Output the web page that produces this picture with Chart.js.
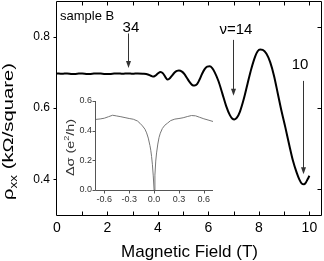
<!DOCTYPE html>
<html>
<head>
<meta charset="utf-8">
<script src="https://cdn.jsdelivr.net/npm/chart.js@4.4.0/dist/chart.umd.min.js"></script>
<style>
  html, body { margin: 0; padding: 0; background: #fff; }
  #wrap { position: relative; width: 324px; height: 261px; }
  canvas { position: absolute; left: 0; top: 0; }
</style>
</head>
<body>
<div id="wrap">
  <canvas id="main" width="324" height="261"></canvas>
  <canvas id="inset" width="324" height="261"></canvas>
</div>
<script>
// main trace: rho_xx vs B
const fieldT = [0, 0.2, 0.4, 0.6, 0.8, 1.0, 1.2, 1.4, 1.6, 1.8, 2.0, 2.2, 2.4, 2.6, 2.8, 3.0, 3.2, 3.4, 3.6,
  3.7, 3.8, 3.9, 4.0, 4.1, 4.2, 4.3, 4.37, 4.45, 4.55, 4.65, 4.75, 4.83, 4.95, 5.05, 5.15, 5.25, 5.35, 5.45,
  5.55, 5.65, 5.75, 5.85, 5.95, 6.05, 6.15, 6.25, 6.4, 6.55, 6.7, 6.85, 6.95, 7.03, 7.12, 7.25, 7.4, 7.55,
  7.7, 7.85, 7.95, 8.05, 8.15, 8.3, 8.45, 8.6, 8.75, 8.9, 9.05, 9.2, 9.35, 9.5, 9.6, 9.7, 9.78, 9.86, 9.93, 10.0];
const rhoXX = [0.697, 0.696, 0.697, 0.695, 0.696, 0.697, 0.695, 0.696, 0.697, 0.696, 0.695, 0.696, 0.697, 0.696, 0.697, 0.696, 0.697, 0.696, 0.694,
  0.691, 0.688, 0.691, 0.697, 0.701, 0.697, 0.686, 0.680, 0.682, 0.690, 0.699, 0.704, 0.705, 0.702, 0.695, 0.684, 0.673, 0.665, 0.663,
  0.667, 0.680, 0.696, 0.709, 0.716, 0.717, 0.712, 0.700, 0.675, 0.641, 0.606, 0.580, 0.570, 0.568, 0.572, 0.590, 0.625, 0.668,
  0.710, 0.744, 0.759, 0.764, 0.763, 0.752, 0.728, 0.690, 0.640, 0.590, 0.545, 0.497, 0.452, 0.418, 0.400, 0.388, 0.386, 0.391, 0.400, 0.410];

// inset: delta sigma vs B
const insetB = [-0.70, -0.65, -0.60, -0.55, -0.50, -0.45, -0.40, -0.35, -0.30, -0.25, -0.20, -0.17, -0.14, -0.11, -0.09, -0.07,
  -0.05, -0.04, -0.03, -0.02, -0.01, 0, 0.01, 0.02, 0.03, 0.045, 0.06, 0.075, 0.10, 0.13, 0.16, 0.20, 0.25, 0.30,
  0.35, 0.40, 0.45, 0.50, 0.55, 0.60, 0.65, 0.71];
const insetDSigma = [0.476, 0.479, 0.484, 0.494, 0.504, 0.499, 0.494, 0.488, 0.482, 0.477, 0.465, 0.450, 0.432, 0.410, 0.385, 0.350,
  0.300, 0.268, 0.225, 0.170, 0.095, 0.0, 0.100, 0.195, 0.250, 0.310, 0.355, 0.383, 0.415, 0.437, 0.450, 0.468, 0.478, 0.482,
  0.487, 0.495, 0.502, 0.500, 0.490, 0.480, 0.472, 0.462];

const xTickLabels = [0, 2, 4, 6, 8, 10];
const xTickMarks = [1, 2, 3, 4, 5, 6, 7, 8, 9, 10];
const yTickLabels = [0.4, 0.6, 0.8];
const rightTickMarks = [0.373, 0.6, 0.827];
const insetXTicks = [-0.6, -0.3, 0, 0.3, 0.6];
const insetYTicks = [0, 0.2, 0.4, 0.6];

// filling-factor arrows (data coords)
const arrows = [
  { label: '34', x: 2.83, from: 0.809, to: 0.712, lx: 2.93, ly: 0.824 },
  { label: 'ν=14', x: 6.99, from: 0.791, to: 0.634, lx: 7.09, ly: 0.818 },
  { label: '10', x: 9.73, from: 0.676, to: 0.414, lx: 9.63, ly: 0.720 }
];

const FONT = 'Arial, "Liberation Sans", Helvetica, sans-serif';
Chart.defaults.font.family = FONT;
Chart.defaults.color = '#000';

function setTicks(list) {
  return (s) => { s.ticks = list.map(v => ({ value: v })); };
}

function fitTo(prop, size) {
  return (s) => {
    s[prop] = size;
    s.paddingTop = 0; s.paddingBottom = 0; s.paddingLeft = 0; s.paddingRight = 0;
  };
}

function rotatedText(ctx, x, y, parts, length) {
  // parts: [text, size, shift]
  ctx.save();
  ctx.translate(x, y);
  ctx.rotate(-Math.PI / 2);
  let w = 0;
  parts.forEach(p => { ctx.font = p[1] + 'px ' + FONT; w += ctx.measureText(p[0]).width; });
  ctx.scale(length / w, 1);
  let cx = 0;
  ctx.textAlign = 'left';
  ctx.textBaseline = 'alphabetic';
  parts.forEach(p => {
    ctx.font = p[1] + 'px ' + FONT;
    ctx.fillText(p[0], cx, p[2]);
    cx += ctx.measureText(p[0]).width;
  });
  ctx.restore();
}

const mainDecor = {
  id: 'mainDecor',
  afterDraw(chart) {
    const { ctx, chartArea: a, scales: { x, y } } = chart;
    ctx.save();
    ctx.strokeStyle = '#000';
    ctx.lineWidth = 1;
    const L = a.left - 0.5, R = a.right - 0.5, T = a.top + 0.5, B = a.bottom + 0.5;
    ctx.beginPath();
    ctx.rect(L, T, R - L, B - T);
    xTickMarks.forEach(v => {
      const px = Math.round(x.getPixelForValue(v)) + 0.5;
      ctx.moveTo(px, B); ctx.lineTo(px, B - 4);
      ctx.moveTo(px, T); ctx.lineTo(px, T + 4);
    });
    yTickLabels.forEach(v => {
      const py = Math.round(y.getPixelForValue(v)) + 0.5;
      ctx.moveTo(L, py); ctx.lineTo(L - 3, py);
    });
    rightTickMarks.forEach(v => {
      const py = Math.round(y.getPixelForValue(v)) + 0.5;
      ctx.moveTo(R, py); ctx.lineTo(R - 4, py);
    });
    ctx.stroke();

    // arrows
    ctx.strokeStyle = '#333';
    ctx.fillStyle = '#333';
    arrows.forEach(ar => {
      const px = Math.round(x.getPixelForValue(ar.x)) + 0.5;
      const y1 = y.getPixelForValue(ar.from), y2 = y.getPixelForValue(ar.to);
      ctx.beginPath();
      ctx.moveTo(px, y1); ctx.lineTo(px, y2 - 5);
      ctx.stroke();
      ctx.beginPath();
      ctx.moveTo(px, y2); ctx.lineTo(px - 2.5, y2 - 7); ctx.lineTo(px + 2.5, y2 - 7);
      ctx.closePath();
      ctx.fill();
    });
    ctx.fillStyle = '#000';
    ctx.textAlign = 'center';
    ctx.textBaseline = 'middle';
    ctx.font = '15px ' + FONT;
    arrows.forEach(ar => {
      ctx.fillText(ar.label, x.getPixelForValue(ar.lx), y.getPixelForValue(ar.ly));
    });

    ctx.textAlign = 'left';
    ctx.font = '13px ' + FONT;
    ctx.fillText('sample B', a.left + 3, 16);

    ctx.textAlign = 'center';
    ctx.textBaseline = 'alphabetic';
    ctx.font = '17px ' + FONT;
    ctx.fillText('Magnetic Field (T)', (a.left + a.right) / 2, 257);

    rotatedText(ctx, 13, 200, [['ρ', 15, 0], ['xx', 10, 4], [' (kΩ/square)', 15, 0]], 137);
    ctx.restore();
  }
};

new Chart(document.getElementById('main'), {
  type: 'line',
  data: {
    datasets: [{
      data: fieldT.map((b, i) => ({ x: b, y: rhoXX[i] })),
      borderColor: '#000',
      borderWidth: 2,
      pointRadius: 0,
      cubicInterpolationMode: 'monotone',
      fill: false
    }]
  },
  options: {
    responsive: false,
    animation: false,
    devicePixelRatio: 1,
    layout: { padding: { top: 1, right: 2, left: 0, bottom: 0 } },
    plugins: { legend: { display: false }, tooltip: { enabled: false } },
    scales: {
      x: {
        type: 'linear', min: 0, max: 10.5,
        afterBuildTicks: setTicks(xTickLabels),
        afterFit: fitTo('height', 46),
        grid: { display: false, drawTicks: false },
        border: { display: false },
        ticks: { font: { size: 14 }, padding: 5, maxRotation: 0, autoSkip: false, color: '#000' }
      },
      y: {
        type: 'linear', min: 0.3, max: 0.9,
        afterBuildTicks: setTicks(yTickLabels),
        afterFit: fitTo('width', 57),
        grid: { display: false, drawTicks: false },
        border: { display: false },
        ticks: { font: { size: 12 }, padding: 7, color: '#000', callback: (v) => v.toFixed(1) }
      }
    }
  },
  plugins: [mainDecor]
});

const insetDecor = {
  id: 'insetDecor',
  afterDraw(chart) {
    const { ctx, chartArea: a, scales: { x, y } } = chart;
    ctx.save();
    ctx.strokeStyle = '#555';
    ctx.lineWidth = 1;
    const L = a.left - 0.5, B = a.bottom + 0.5;
    ctx.beginPath();
    ctx.moveTo(L, a.top); ctx.lineTo(L, B); ctx.lineTo(a.right, B);
    insetXTicks.forEach(v => {
      const px = Math.round(x.getPixelForValue(v)) + 0.5;
      ctx.moveTo(px, B); ctx.lineTo(px, B + 3);
    });
    insetYTicks.forEach(v => {
      const py = Math.round(y.getPixelForValue(v)) + 0.5;
      ctx.moveTo(L, py); ctx.lineTo(L - 3, py);
    });
    ctx.stroke();
    ctx.fillStyle = '#333';
    rotatedText(ctx, 74, 176, [['Δσ (e', 11, 0], ['2', 7, -5], ['/h)', 11, 0]], 57);
    ctx.restore();
  }
};

new Chart(document.getElementById('inset'), {
  type: 'line',
  data: {
    datasets: [{
      data: insetB.map((b, i) => ({ x: b, y: insetDSigma[i] })),
      borderColor: '#777',
      borderWidth: 1,
      pointRadius: 0,
      tension: 0,
      fill: false
    }]
  },
  options: {
    responsive: false,
    animation: false,
    devicePixelRatio: 1,
    layout: { padding: { top: 101, right: 111, left: 0, bottom: 0 } },
    plugins: { legend: { display: false }, tooltip: { enabled: false } },
    scales: {
      x: {
        type: 'linear', min: -0.7, max: 0.71,
        afterBuildTicks: setTicks(insetXTicks),
        afterFit: fitTo('height', 71),
        grid: { display: false, drawTicks: false },
        border: { display: false },
        ticks: { font: { size: 9 }, padding: 4, maxRotation: 0, autoSkip: false, color: '#333', callback: (v) => v.toFixed(1) }
      },
      y: {
        type: 'linear', min: 0, max: 0.6,
        afterBuildTicks: setTicks(insetYTicks),
        afterFit: fitTo('width', 96),
        grid: { display: false, drawTicks: false },
        border: { display: false },
        ticks: { font: { size: 9 }, padding: 4, color: '#333', callback: (v) => v.toFixed(1) }
      }
    }
  },
  plugins: [insetDecor]
});
</script>
</body>
</html>
